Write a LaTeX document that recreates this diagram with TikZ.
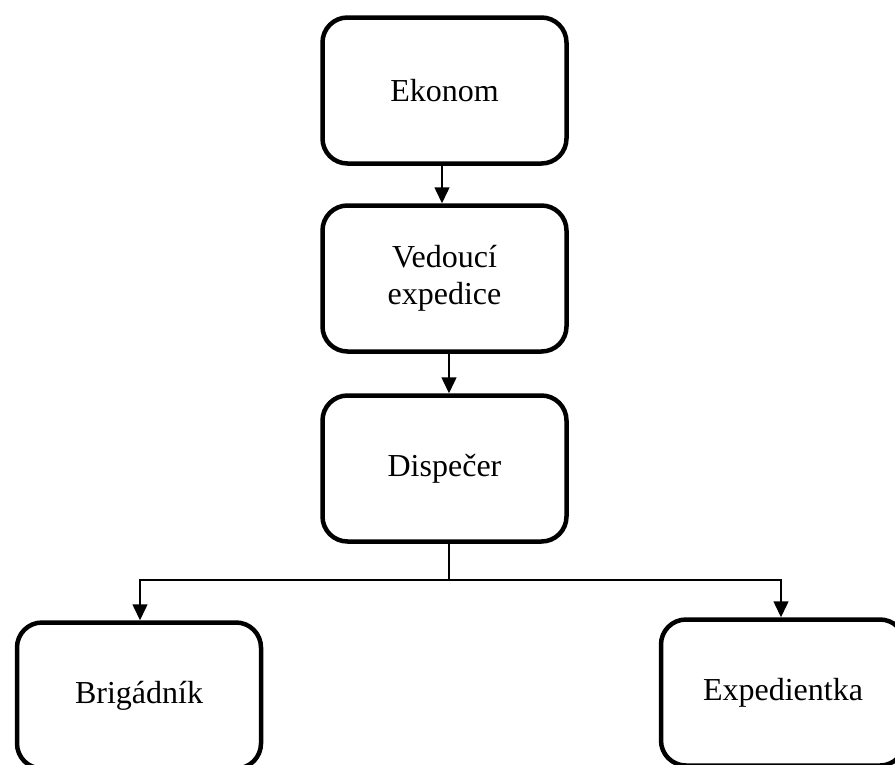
\documentclass[tikz,border=0pt]{standalone}
\usepackage{fontspec}
\setmainfont{Liberation Serif}
\usetikzlibrary{arrows.meta}
\tikzset{
  box/.style={draw, line width=4.5pt, rounded corners=25pt, minimum width=244pt, minimum height=146pt, inner sep=0pt, align=center, font=\fontsize{32}{37}\selectfont},
  arr/.style={line width=1.5pt, -{Triangle[width=15pt,length=16pt]}},
  ln/.style={line width=1.3pt}
}
\begin{document}
\begin{tikzpicture}[x=1pt,y=-1pt]
\useasboundingbox (0,0) rectangle (895,764);
\node[box] (eko) at (444.5,90.5) {Ekonom};
\node[box] (ved) at (444.5,278.5) {Vedoucí\\expedice};
\node[box] (dis) at (444.5,468.5) {Dispečer};
\node[box] (bri) at (139,695.5) {Brigádník};
\node[box] (exp) at (783,692.5) {Expedientka};
\coordinate (j) at (449,580);
\draw[arr] ([xshift=-2.5pt]eko.south) -- ([xshift=-2.5pt]ved.north);
\draw[arr] ([xshift=4.5pt]ved.south) -- ([xshift=4.5pt]dis.north);
\draw[ln] ([xshift=4.5pt]dis.south) -- (j);
\draw[arr] (j) -| ([xshift=1pt]bri.north);
\draw[arr] (j) -| ([xshift=-2pt]exp.north);
\end{tikzpicture}
\end{document}
